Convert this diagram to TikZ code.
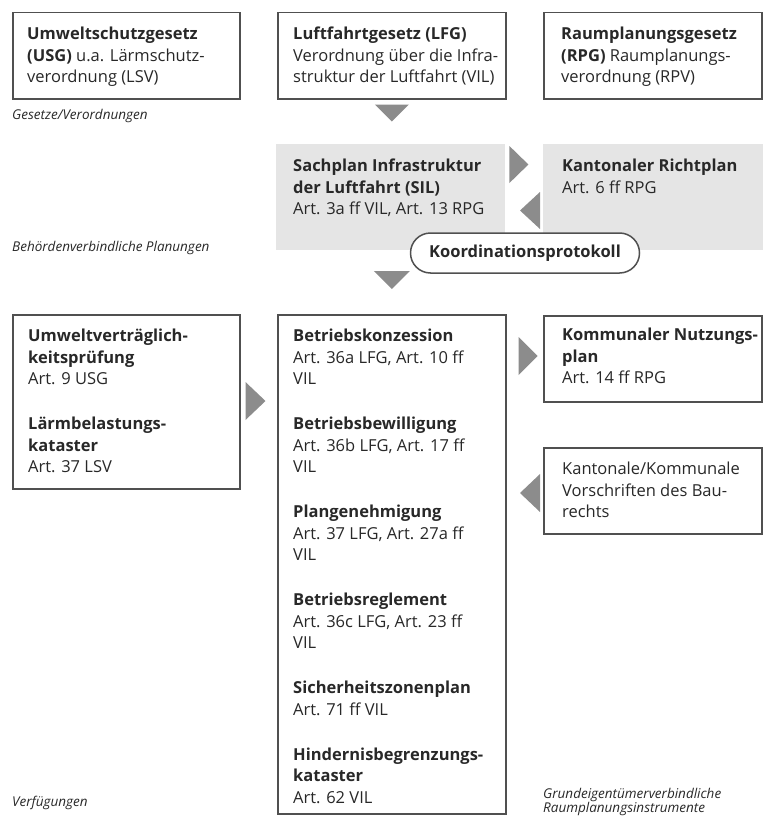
\documentclass[tikz,border=0pt]{standalone}
\usepackage{fontspec}
\setmainfont{Open Sans}
\usepackage{tikz}
\usetikzlibrary{positioning}
\usetikzlibrary{calc}
\definecolor{framegray}{RGB}{80, 80, 80}
\definecolor{planfill}{RGB}{229, 229, 229}
\definecolor{wedgegray}{RGB}{140, 140, 140}
\definecolor{inkgray}{RGB}{40, 40, 40}

\begin{document}
\begin{tikzpicture}[x=1pt, y=-1pt,
    lawbox/.style={draw=framegray, line width=1.5pt, fill=white, anchor=north west, inner sep=0pt},
    planbox/.style={fill=planfill, anchor=north west, inner sep=0pt, minimum height=106pt},
    boxtext/.style={align=left, inner sep=0pt, text=inkgray, font=\fontsize{16.5}{21.5}\selectfont},
    levellabel/.style={align=left, inner sep=0pt, anchor=base west, text=inkgray, font=\fontsize{13.5}{13.5}\selectfont\itshape},
    wedge/.style={fill=wedgegray},
    protokoll/.style={draw=framegray, line width=1.5pt, fill=white, rounded corners=20pt,
      minimum width=229pt, minimum height=40pt, inner sep=0pt, text=inkgray,
      font=\fontsize{16.5}{18}\selectfont\bfseries}]

        \pgfmathsetmacro{\gap}{23.5}

        \useasboundingbox (0,0) rectangle (763,816);

        % Gesetze/Verordnungen
        \node[lawbox, minimum width=227pt, minimum height=86pt] (usg) at (12,12) {};
        \node[lawbox, minimum width=228pt, minimum height=86pt] (lfg) at (277,12) {};
        \node[lawbox, minimum width=218pt, minimum height=86pt] (rpg) at (543,12) {};

        \node[boxtext, below right=15pt and 15pt of usg.north west] (usg-t)
        {\textbf{Umweltschutzgesetz}\\\textbf{(USG)} u.a. Lärmschutz-\\verordnung (LSV)};
        \node[boxtext, below right=15pt and 16pt of lfg.north west] (lfg-t)
        {\textbf{Luftfahrtgesetz (LFG)}\\Verordnung über die Infra-\\struktur der Luftfahrt (VIL)};
        \node[boxtext, below right=15pt and 18pt of rpg.north west] (rpg-t)
        {\textbf{Raumplanungsgesetz}\\\textbf{(RPG)} Raumplanungs-\\verordnung (RPV)};

        \node[levellabel] (gesetze) at (12,119) {Gesetze/Verordnungen};

        % Behoerdenverbindliche Planungen
        \node[planbox, minimum width=229pt] (sil) at (276,144) {};
        \node[planbox, minimum width=220pt] (richtplan) at (543,144) {};

        \node[boxtext, below right=15pt and 17pt of sil.north west] (sil-t)
        {\textbf{Sachplan Infrastruktur}\\\textbf{der Luftfahrt (SIL)}\\Art. 3a ff VIL, Art. 13 RPG};
        \node[boxtext, below right=15pt and 19pt of richtplan.north west] (richtplan-t)
        {\textbf{Kantonaler Richtplan}\\Art. 6 ff RPG};

        \node[protokoll] (koord) at (525,253) {Koordinationsprotokoll};

        \node[levellabel] (behoerden) at (12,251) {Behördenverbindliche Planungen};

        % Verfuegungen und Grundeigentuemerverbindliches
        \node[lawbox, minimum width=227pt, minimum height=174pt] (uvp) at (12,314) {};
        \node[lawbox, minimum width=228pt, minimum height=499pt] (betrieb) at (277,314) {};
        \node[lawbox, minimum width=218pt, minimum height=86pt] (nutzplan) at (543,315) {};
        \node[lawbox, minimum width=218pt, minimum height=86pt] (baurecht) at (543,447) {};

        \node[boxtext, below right=15pt and 16pt of uvp.north west] (uvp-t)
        {\textbf{Umweltverträglich-}\\\textbf{keitsprüfung}\\Art. 9 USG\\[\gap pt]
         \textbf{Lärmbelastungs-}\\\textbf{kataster}\\Art. 37 LSV};
        \node[boxtext, below right=15pt and 16pt of betrieb.north west] (betrieb-t)
        {\textbf{Betriebskonzession}\\Art. 36a LFG, Art. 10 ff\\VIL\\[\gap pt]
         \textbf{Betriebsbewilligung}\\Art. 36b LFG, Art. 17 ff\\VIL\\[\gap pt]
         \textbf{Plangenehmigung}\\Art. 37 LFG, Art. 27a ff\\VIL\\[\gap pt]
         \textbf{Betriebsreglement}\\Art. 36c LFG, Art. 23 ff\\VIL\\[\gap pt]
         \textbf{Sicherheitszonenplan}\\Art. 71 ff VIL\\[\gap pt]
         \textbf{Hindernisbegrenzungs-}\\\textbf{kataster}\\Art. 62 VIL};
        \node[boxtext, below right=13pt and 19pt of nutzplan.north west] (nutzplan-t)
        {\textbf{Kommunaler Nutzungs-}\\\textbf{plan}\\Art. 14 ff RPG};
        \node[boxtext, below right=15pt and 19pt of baurecht.north west] (baurecht-t)
        {Kantonale/Kommunale\\Vorschriften des Bau-\\rechts};

        \node[levellabel] (verfuegungen) at (12,806) {Verfügungen};
        \node[levellabel] (grundeigentum) at (543,812) {Grundeigentümerverbindliche\\Raumplanungsinstrumente};

        % Pfeile
        \fill[wedge] ($(lfg.south)+(-17,5)$) -- ++(34,0) -- ++(-17,17) -- cycle;
        \fill[wedge] ($(sil.north east)+(4,2)$) -- ++(0,37) -- ++(19,-18.5) -- cycle;
        \fill[wedge] ($(richtplan.north west)+(-3,48)$) -- ++(0,37) -- ++(-20,-18.5) -- cycle;
        \fill[wedge] ($(betrieb.north)+(-18,-43)$) -- ++(36,0) -- ++(-18,18) -- cycle;
        \fill[wedge] ($(uvp.north east)+(5,68)$) -- ++(0,38) -- ++(20,-19) -- cycle;
        \fill[wedge] ($(betrieb.north east)+(12,23)$) -- ++(0,38) -- ++(19,-19) -- cycle;
        \fill[wedge] ($(baurecht.north west)+(-3,27)$) -- ++(0,38) -- ++(-20,-19) -- cycle;

    \end{tikzpicture}
\end{document}
